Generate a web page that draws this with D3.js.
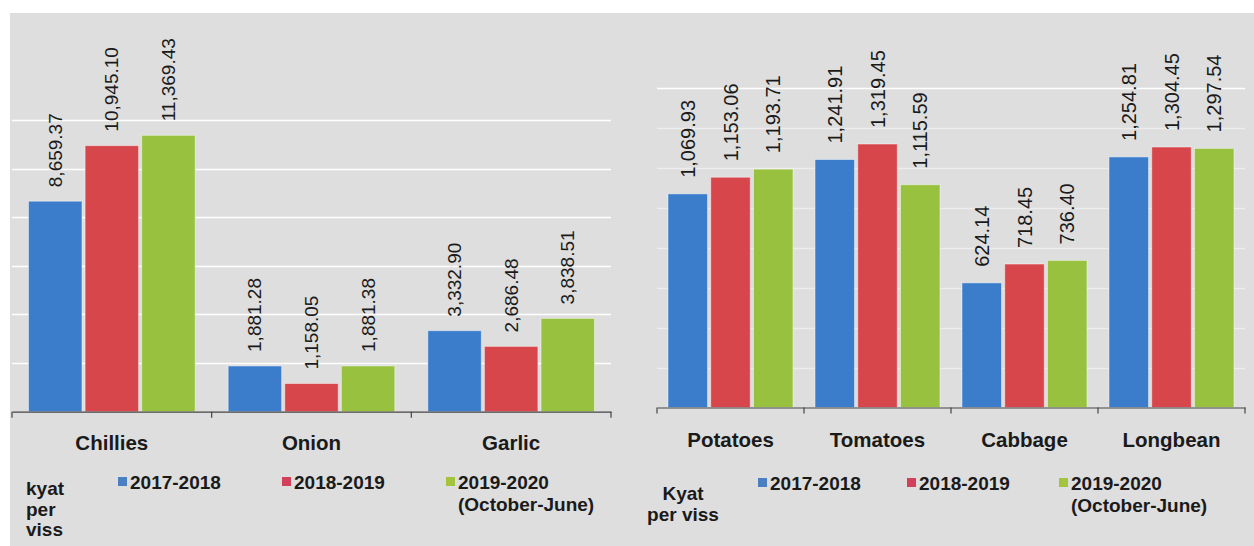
<!DOCTYPE html>
<html>
<head>
<meta charset="utf-8">
<script src="https://cdn.jsdelivr.net/npm/d3@7/dist/d3.min.js"></script>
<style>
  html, body { margin: 0; padding: 0; background: #ffffff; }
  svg { display: block; font-family: "Liberation Sans", Arial, sans-serif; }
</style>
</head>
<body>
<svg id="chart" width="1254" height="546"></svg>
<script>
// ---- data ----
const leftCategories = ["Chillies", "Onion", "Garlic"];
const left2017 = [8659.37, 1881.28, 3332.90];
const left2018 = [10945.10, 1158.05, 2686.48];
const left2019 = [11369.43, 1881.38, 3838.51];
const leftGridTicks = [2000, 4000, 6000, 8000, 10000, 12000];
const leftUnitLines = ["kyat", "per", "viss"];

const rightCategories = ["Potatoes", "Tomatoes", "Cabbage", "Longbean"];
const right2017 = [1069.93, 1241.91, 624.14, 1254.81];
const right2018 = [1153.06, 1319.45, 718.45, 1304.45];
const right2019 = [1193.71, 1115.59, 736.40, 1297.54];
const rightGridTicks = [200, 400, 600, 800, 1000, 1200, 1400, 1600];
const rightUnitLines = ["Kyat", "per viss"];

const seriesNames = ["2017-2018", "2018-2019", "2019-2020\n(October-June)"];
const seriesColors = ["#3b7dcb", "#d6464b", "#97c13f"];
const legendColors = ["#4a7fc2", "#d2405c", "#a3c43c"];

const fmt = d3.format(",.2f");
const svg = d3.select("#chart");

// background
svg.append("rect").attr("x", 10).attr("y", 13).attr("width", 1244).attr("height", 533).attr("fill", "#dedede");

function panel(cfg) {
  const g = svg.append("g");
  const x = d3.scaleBand().domain(cfg.categories).range([cfg.x0, cfg.x1]).paddingInner(0).paddingOuter(0);
  const x1 = d3.scaleBand().domain([0, 1, 2])
    .range([cfg.groupPad, x.bandwidth() - cfg.groupPad]).paddingInner(cfg.barGap);
  const y = d3.scaleLinear().domain([0, cfg.yMax]).range([cfg.base, cfg.top]);

  // gridlines
  g.append("g").selectAll("line").data(cfg.gridTicks).join("line")
    .attr("x1", cfg.x0).attr("x2", cfg.x1)
    .attr("y1", d => Math.round(y(d)) + 0.5).attr("y2", d => Math.round(y(d)) + 0.5)
    .attr("stroke", "#ffffff").attr("stroke-width", 1.5)
    .attr("stroke-opacity", (d, i) => cfg.gridOpacity(d, i));

  const series = [cfg.s1, cfg.s2, cfg.s3];
  const rows = [];
  cfg.categories.forEach((c, ci) => series.forEach((s, si) => rows.push({ c, si, v: s[ci] })));

  g.append("g").selectAll("rect").data(rows).join("rect")
    .attr("x", d => x(d.c) + x1(d.si))
    .attr("y", d => y(d.v))
    .attr("width", x1.bandwidth())
    .attr("height", d => y(0) - y(d.v))
    .attr("fill", d => seriesColors[d.si])
    .attr("stroke", "rgba(255,255,255,0.45)").attr("stroke-width", 1);

  g.append("g").selectAll("text").data(rows).join("text")
    .attr("transform", d => {
      const cx = x(d.c) + x1(d.si) + x1.bandwidth() / 2;
      const cy = y(d.v) - cfg.labelGap;
      return `translate(${cx},${cy}) rotate(-90)`;
    })
    .attr("text-anchor", "start")
    .attr("dominant-baseline", "central")
    .attr("font-size", cfg.labelSize)
    .attr("fill", "#1a1a1a")
    .text(d => fmt(d.v));

  // x axis
  const axis = d3.axisBottom(x).tickSize(0).tickFormat("");
  const ag = g.append("g").attr("transform", `translate(0,${cfg.base})`).call(axis);
  ag.select(".domain").attr("stroke", "#444").attr("stroke-width", 1.2);
  const edges = [cfg.x0].concat(cfg.categories.map(c => x(c) + x.bandwidth()));
  ag.selectAll(".edge").data(edges).join("line").attr("class", "edge")
    .attr("x1", d => d).attr("x2", d => d).attr("y1", 0).attr("y2", 6)
    .attr("stroke", "#444").attr("stroke-width", 1.2);

  // category labels
  g.append("g").selectAll("text").data(cfg.categories).join("text")
    .attr("x", d => x(d) + x.bandwidth() / 2)
    .attr("y", cfg.catY)
    .attr("text-anchor", "middle")
    .attr("dominant-baseline", "central")
    .attr("font-size", 20.5).attr("font-weight", "bold").attr("fill", "#1a1a1a")
    .text(d => d);

  // unit label
  const ut = g.append("text").attr("font-size", 19).attr("font-weight", "bold").attr("fill", "#1a1a1a")
    .attr("text-anchor", cfg.unitAnchor);
  cfg.unitLines.forEach((t, i) => {
    ut.append("tspan").attr("x", cfg.unitX).attr("y", cfg.unitY + i * cfg.unitLH).text(t);
  });

  // legend
  const lg = g.append("g").selectAll("g").data(seriesNames).join("g")
    .attr("transform", (d, i) => `translate(${cfg.legendX[i]},${cfg.legendY})`);
  lg.append("rect").attr("x", 0).attr("y", -5).attr("width", 9).attr("height", 9)
    .attr("fill", (d, i) => legendColors[i]);
  lg.each(function (d) {
    const t = d3.select(this).append("text").attr("font-size", 19).attr("font-weight", "bold")
      .attr("fill", "#1a1a1a");
    d.split("\n").forEach((line, li) => {
      t.append("tspan").attr("x", 12).attr("y", 7 + li * 22).text(line);
    });
  });
}

panel({
  categories: leftCategories, s1: left2017, s2: left2018, s3: left2019,
  x0: 12, x1: 611, groupPad: 16.5, barGap: 0.055,
  yMax: 12000, base: 411.7, top: 120,
  gridTicks: leftGridTicks, gridOpacity: () => 1,
  labelGap: 14, labelSize: 19,
  catY: 442,
  unitLines: leftUnitLines, unitX: 26, unitY: 495, unitLH: 20.5, unitAnchor: "start",
  legendX: [118, 282, 446], legendY: 482
});

panel({
  categories: rightCategories, s1: right2017, s2: right2018, s3: right2019,
  x0: 657, x1: 1245, groupPad: 11, barGap: 0.075,
  yMax: 1600, base: 407.5, top: 88,
  gridTicks: rightGridTicks, gridOpacity: d => (d === 1600 ? 1 : 0.45),
  labelGap: 16, labelSize: 20,
  catY: 439,
  unitLines: rightUnitLines, unitX: 683, unitY: 500, unitLH: 21, unitAnchor: "middle",
  legendX: [758, 907, 1059], legendY: 483
});
</script>
</body>
</html>
